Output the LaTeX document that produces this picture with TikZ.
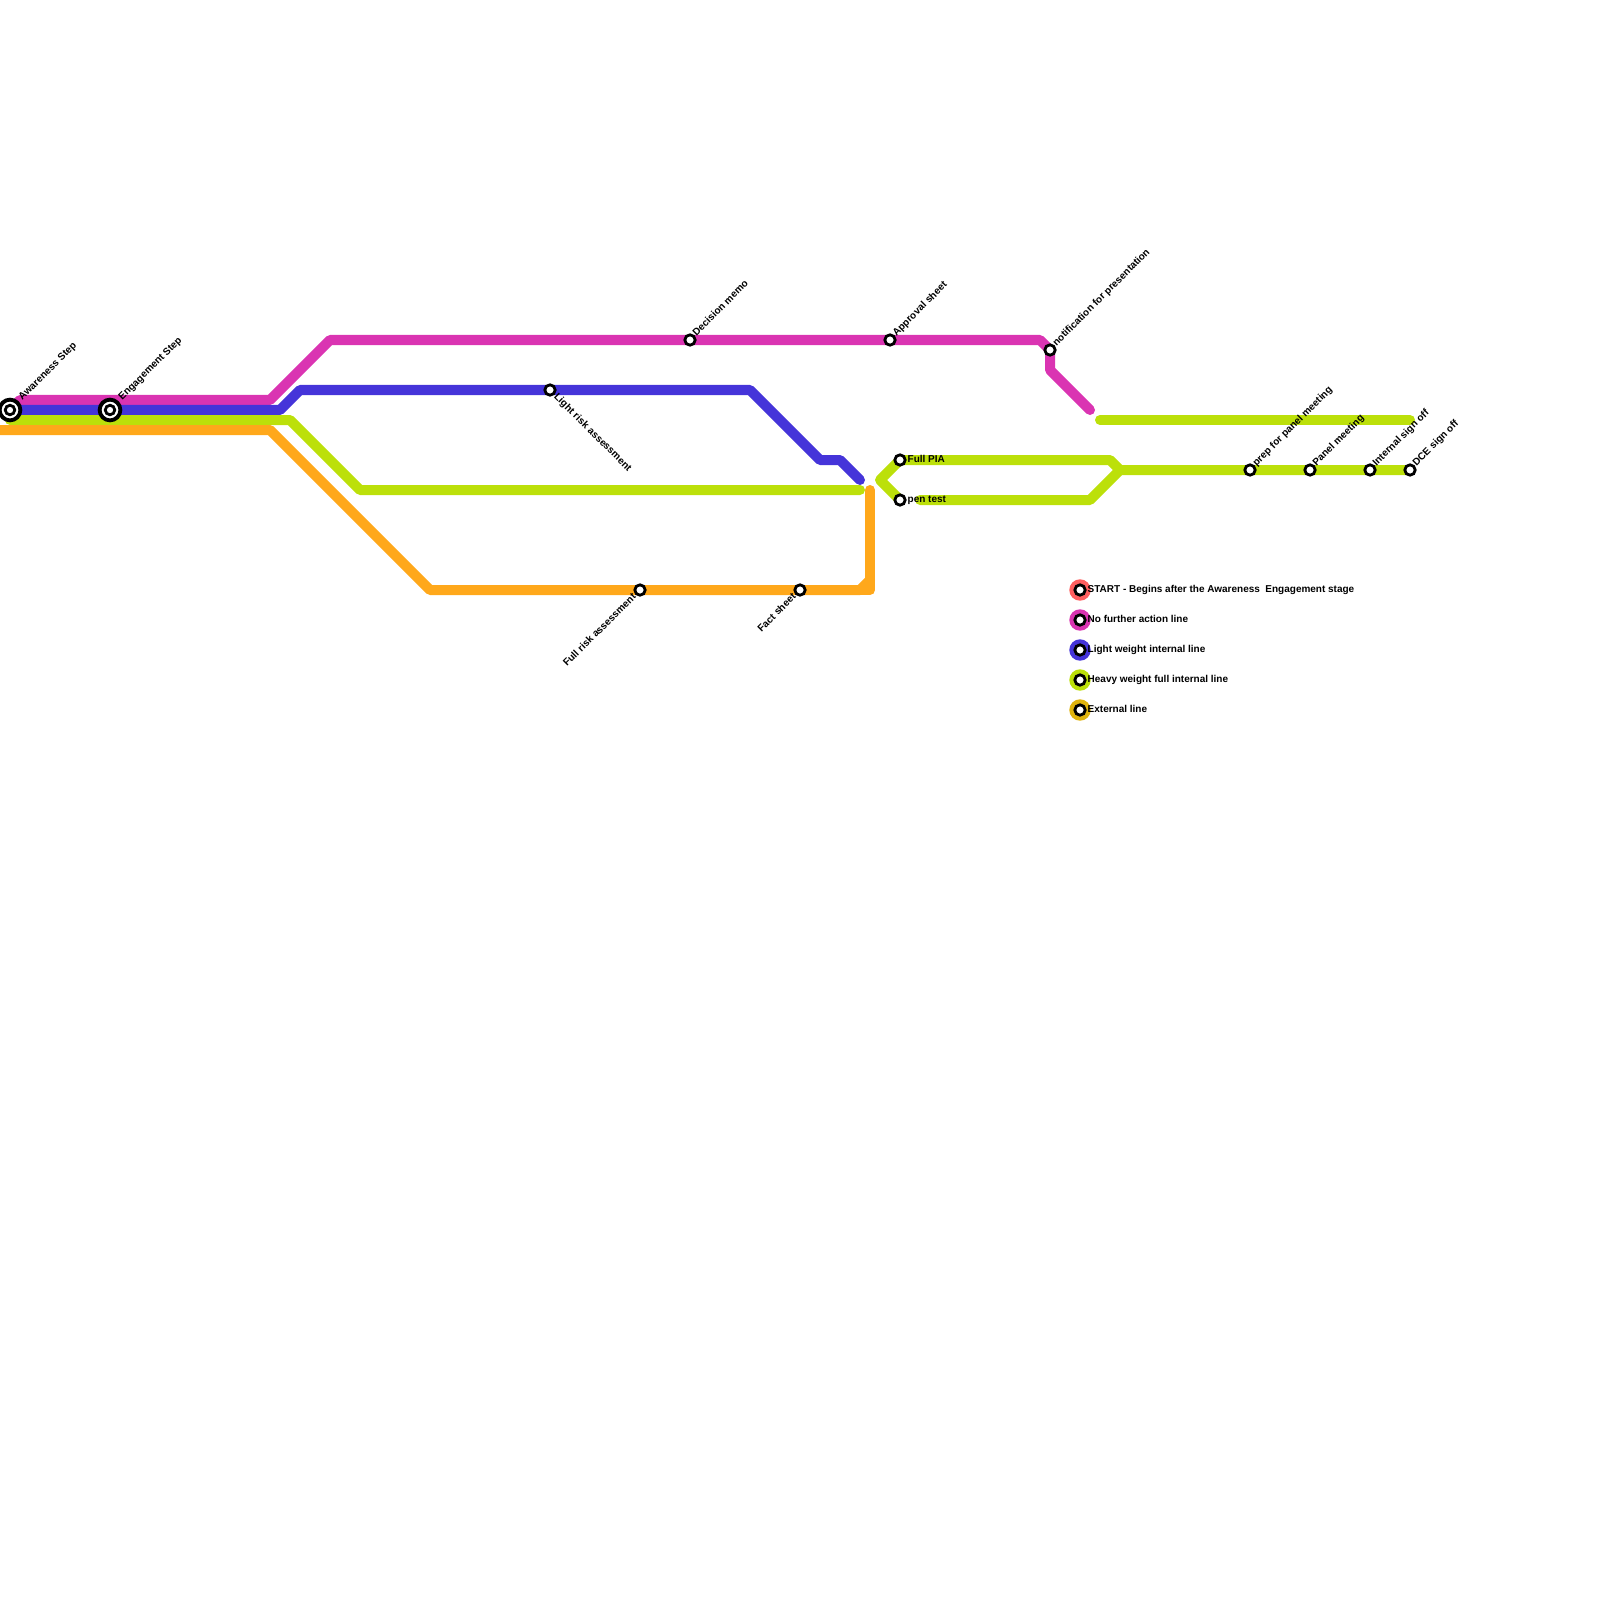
\documentclass[tikz,border=0pt]{standalone}
\usepackage{fontspec}
\setmainfont{Liberation Sans}
\usepackage{xcolor}
\usetikzlibrary{calc}
\definecolor{noactioncol}{HTML}{DA34B2}
\definecolor{lightcol}{HTML}{4534D9}
\definecolor{heavycol}{HTML}{BCE00A}
\definecolor{externalcol}{HTML}{FFA81B}
\definecolor{startcol}{HTML}{FF5F5F}
\definecolor{keyexternalcol}{HTML}{E0B40E}
\tikzset{
  metroline/.style={line width=2.845pt, line join=round, line cap=round},
  stopring/.style={circle, draw=black, fill=white, line width=0.8pt, minimum size=2.95pt, inner sep=0pt},
  bigring/.style={circle, draw=black, fill=white, line width=1.1pt, minimum size=5.9pt, inner sep=0pt},
  bigdot/.style={circle, draw=black, fill=white, line width=0.8pt, minimum size=2.7pt, inner sep=0pt},
  keydisc/.style={circle, minimum size=6.1pt, inner sep=0pt},
  txtfont/.style={font=\fontsize{2.84}{3}\selectfont\bfseries, inner sep=0pt, text=black},
  lblup/.style={txtfont, shift={(6,-3)}, rotate=45, anchor=base west},
  lblbig/.style={txtfont, shift={(12,-9)}, rotate=45, anchor=base west},
  lbldown/.style={txtfont, shift={(3,7)}, rotate=-45, anchor=base west},
  lblback/.style={txtfont, shift={(-3,7)}, rotate=45, anchor=base east},
  lblside/.style={txtfont, anchor=base west}
}
\begin{document}
\begin{tikzpicture}[x=0.01cm, y=-0.01cm]
\useasboundingbox (0,0) rectangle (1600,1600);
% stops
\coordinate (awareness) at (10,410);
\coordinate (engagement) at (110,410);
\coordinate (lightrisk) at (550,390);
\coordinate (decision) at (690,340);
\coordinate (approval) at (890,340);
\coordinate (notify) at (1050,350);
\coordinate (fullpia) at (900,460);
\coordinate (pentest) at (900,500);
\coordinate (fullrisk) at (640,590);
\coordinate (factsheet) at (800,590);
\coordinate (prep) at (1250,470);
\coordinate (panel) at (1310,470);
\coordinate (internal) at (1370,470);
\coordinate (dce) at (1410,470);

% lines
\draw[metroline, noactioncol] (awareness) -- (20,400) -- (270,400) -- (330,340) -- (decision) -- (approval) -- (1040,340) -- (notify) -- (1050,370) -- (1090,410);
\draw[metroline, lightcol] (awareness) -- (engagement) -- (280,410) -- (300,390) -- (lightrisk) -- (750,390) -- (820,460) -- (840,460) -- (860,480);
\draw[metroline, heavycol] (10,420) -- (290,420) -- (360,490) -- (860,490);
\draw[metroline, externalcol, line cap=butt] (0,430) -- (270,430) -- (430,590) -- (fullrisk) -- (factsheet) -- (860,590);
\draw[metroline, externalcol] (860,590) -- (870,590) -- (870,490);
\draw[metroline, externalcol] (860,590) -- (870,580);
\draw[metroline, heavycol] (fullpia) -- (880,480) -- (pentest);
\draw[metroline, heavycol] (fullpia) -- (1110,460) -- (1120,470) -- (prep) -- (panel) -- (internal) -- (dce);
\draw[metroline, heavycol] (920,500) -- (1090,500) -- (1120,470);
\draw[metroline, heavycol] (1100,420) -- (1410,420);

% stop markers
\node[bigring] (awarenessring) at (awareness) {};
\node[bigdot] (awarenessdot) at (awareness) {};
\node[bigring] (engagementring) at (engagement) {};
\node[bigdot] (engagementdot) at (engagement) {};
\foreach \stp in {lightrisk,decision,approval,notify,fullpia,pentest,fullrisk,factsheet,prep,panel,internal,dce}
  \node[stopring] (\stp ring) at (\stp) {};

% labels
\node[lblbig] (awarenesstxt) at (awareness) {Awareness Step};
\node[lblbig] (engagementtxt) at (engagement) {Engagement Step};
\node[lbldown] (lightrisktxt) at (lightrisk) {Light risk assessment};
\node[lblup] (decisiontxt) at (decision) {Decision memo};
\node[lblup] (approvaltxt) at (approval) {Approval sheet};
\node[lblup] (notifytxt) at (notify) {notification for presentation};
\node[lblback] (fullrisktxt) at (fullrisk) {Full risk assessment};
\node[lblback] (factsheettxt) at (factsheet) {Fact sheet};
\node[lblside] (fullpiatxt) at (907,462.5) {Full PIA};
\node[lblside] (pentesttxt) at (907,502.5) {pen test};
\node[lblup] (preptxt) at (prep) {prep for panel meeting};
\node[lblup] (paneltxt) at (panel) {Panel meeting};
\node[lblup] (internaltxt) at (internal) {Internal sign off};
\node[lblup] (dcetxt) at (dce) {DCE sign off};

% key
\node[keydisc, fill=startcol] (keystart) at (1080,590) {};
\node[keydisc, fill=noactioncol] (keynone) at (1080,620) {};
\node[keydisc, fill=lightcol] (keylight) at (1080,650) {};
\node[keydisc, fill=heavycol] (keyheavy) at (1080,680) {};
\node[keydisc, fill=keyexternalcol] (keyext) at (1080,710) {};
\foreach \keyn in {keystart,keynone,keylight,keyheavy,keyext}
  \node[stopring] (\keyn ring) at (\keyn) {};
\node[lblside] (keystarttxt) at (1087,592.5) {START - Begins after the Awareness \ Engagement stage};
\node[lblside] (keynonetxt) at (1087,622.5) {No further action line};
\node[lblside] (keylighttxt) at (1087,652.5) {Light weight internal line};
\node[lblside] (keyheavytxt) at (1087,682.5) {Heavy weight full internal line};
\node[lblside] (keyexttxt) at (1087,712.5) {External line};
\end{tikzpicture}
\end{document}
